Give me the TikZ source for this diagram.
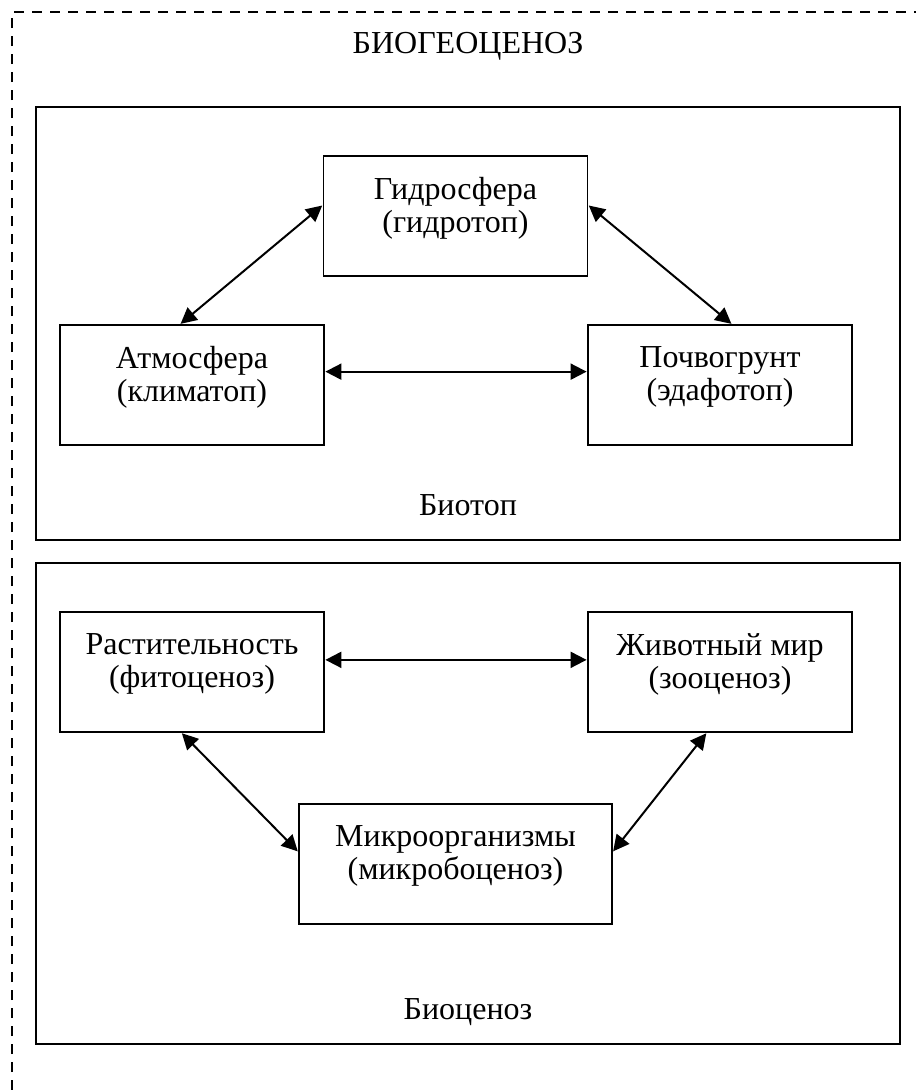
\documentclass[tikz,border=0pt]{standalone}
\usepackage{fontspec}
\setmainfont{Liberation Serif}
\usetikzlibrary{calc}
\usetikzlibrary{arrows.meta}
\tikzset{
	box/.style={draw, line width=1.1pt, minimum width=198pt, minimum height=90pt, inner sep=0pt},
	boxtext/.style={anchor=north, align=center, inner sep=0pt, yshift=-16.5pt},
	frame/.style={draw, line width=1.1pt, inner sep=0pt},
	conn/.style={{Triangle[length=12pt,width=12pt]}-{Triangle[length=12pt,width=12pt]}, line width=1.5pt, shorten <=0.5pt, shorten >=0.5pt},
}
\begin{document}
\begin{tikzpicture}[x=0.75pt, y=-0.75pt, font=\fontsize{24}{24.5}\selectfont]
			\useasboundingbox (0,0) rectangle (916,1090);
			%		\draw[dashed] (0,0) grid (916,1090);
			\draw[line width=1.7pt, dash pattern=on 7.5pt off 6pt] (12,1090) -- (12,12) -- (916,12);
			\node[anchor=base] (title) at (468,53) {БИОГЕОЦЕНОЗ};
			% biotop
			\node[frame, minimum width=648pt, minimum height=324.75pt] (biotop) at (468,323.5) {};
			\node[anchor=base] (biotoplbl) at (468,515) {Биотоп};
			\node[box, label={[boxtext]north:Гидросфера\\(гидротоп)}] (hydro) at (455.5,216) {};
			\node[box, label={[boxtext]north:Атмосфера\\(климатоп)}] (atmo) at (192,385) {};
			\node[box, label={[boxtext]north:Почвогрунт\\(эдафотоп)}] (soil) at (720,385) {};
			\draw[conn] ($(atmo.north east)!0.39!(atmo.south east)$) -- ($(soil.north west)!0.39!(soil.south west)$);
			\draw[conn] ($(hydro.north west)!0.41!(hydro.south west)$) -- ($(atmo.north west)!0.455!(atmo.north east)$);
			\draw[conn] ($(hydro.north east)!0.41!(hydro.south east)$) -- ($(soil.north west)!0.545!(soil.north east)$);
			% biocenosis
			\node[frame, minimum width=648pt, minimum height=360.75pt] (biocen) at (468,803.5) {};
			\node[anchor=base] (biocenlbl) at (468,1019) {Биоценоз};
			\node[box, label={[boxtext]north:Растительность\\(фитоценоз)}] (flora) at (192,672) {};
			\node[box, label={[boxtext]north:Животный мир\\(зооценоз)}] (fauna) at (720,672) {};
			\node[box, minimum width=234.75pt, label={[boxtext]north:Микроорганизмы\\(микробоценоз)}] (micro) at (455.5,864) {};
			\draw[conn] ($(flora.north east)!0.4!(flora.south east)$) -- ($(fauna.north west)!0.4!(fauna.south west)$);
			\draw[conn] ($(flora.south west)!0.46!(flora.south east)$) -- ($(micro.north west)!0.4!(micro.south west)$);
			\draw[conn] ($(fauna.south west)!0.45!(fauna.south east)$) -- ($(micro.north east)!0.4!(micro.south east)$);
		\end{tikzpicture}
\end{document}
